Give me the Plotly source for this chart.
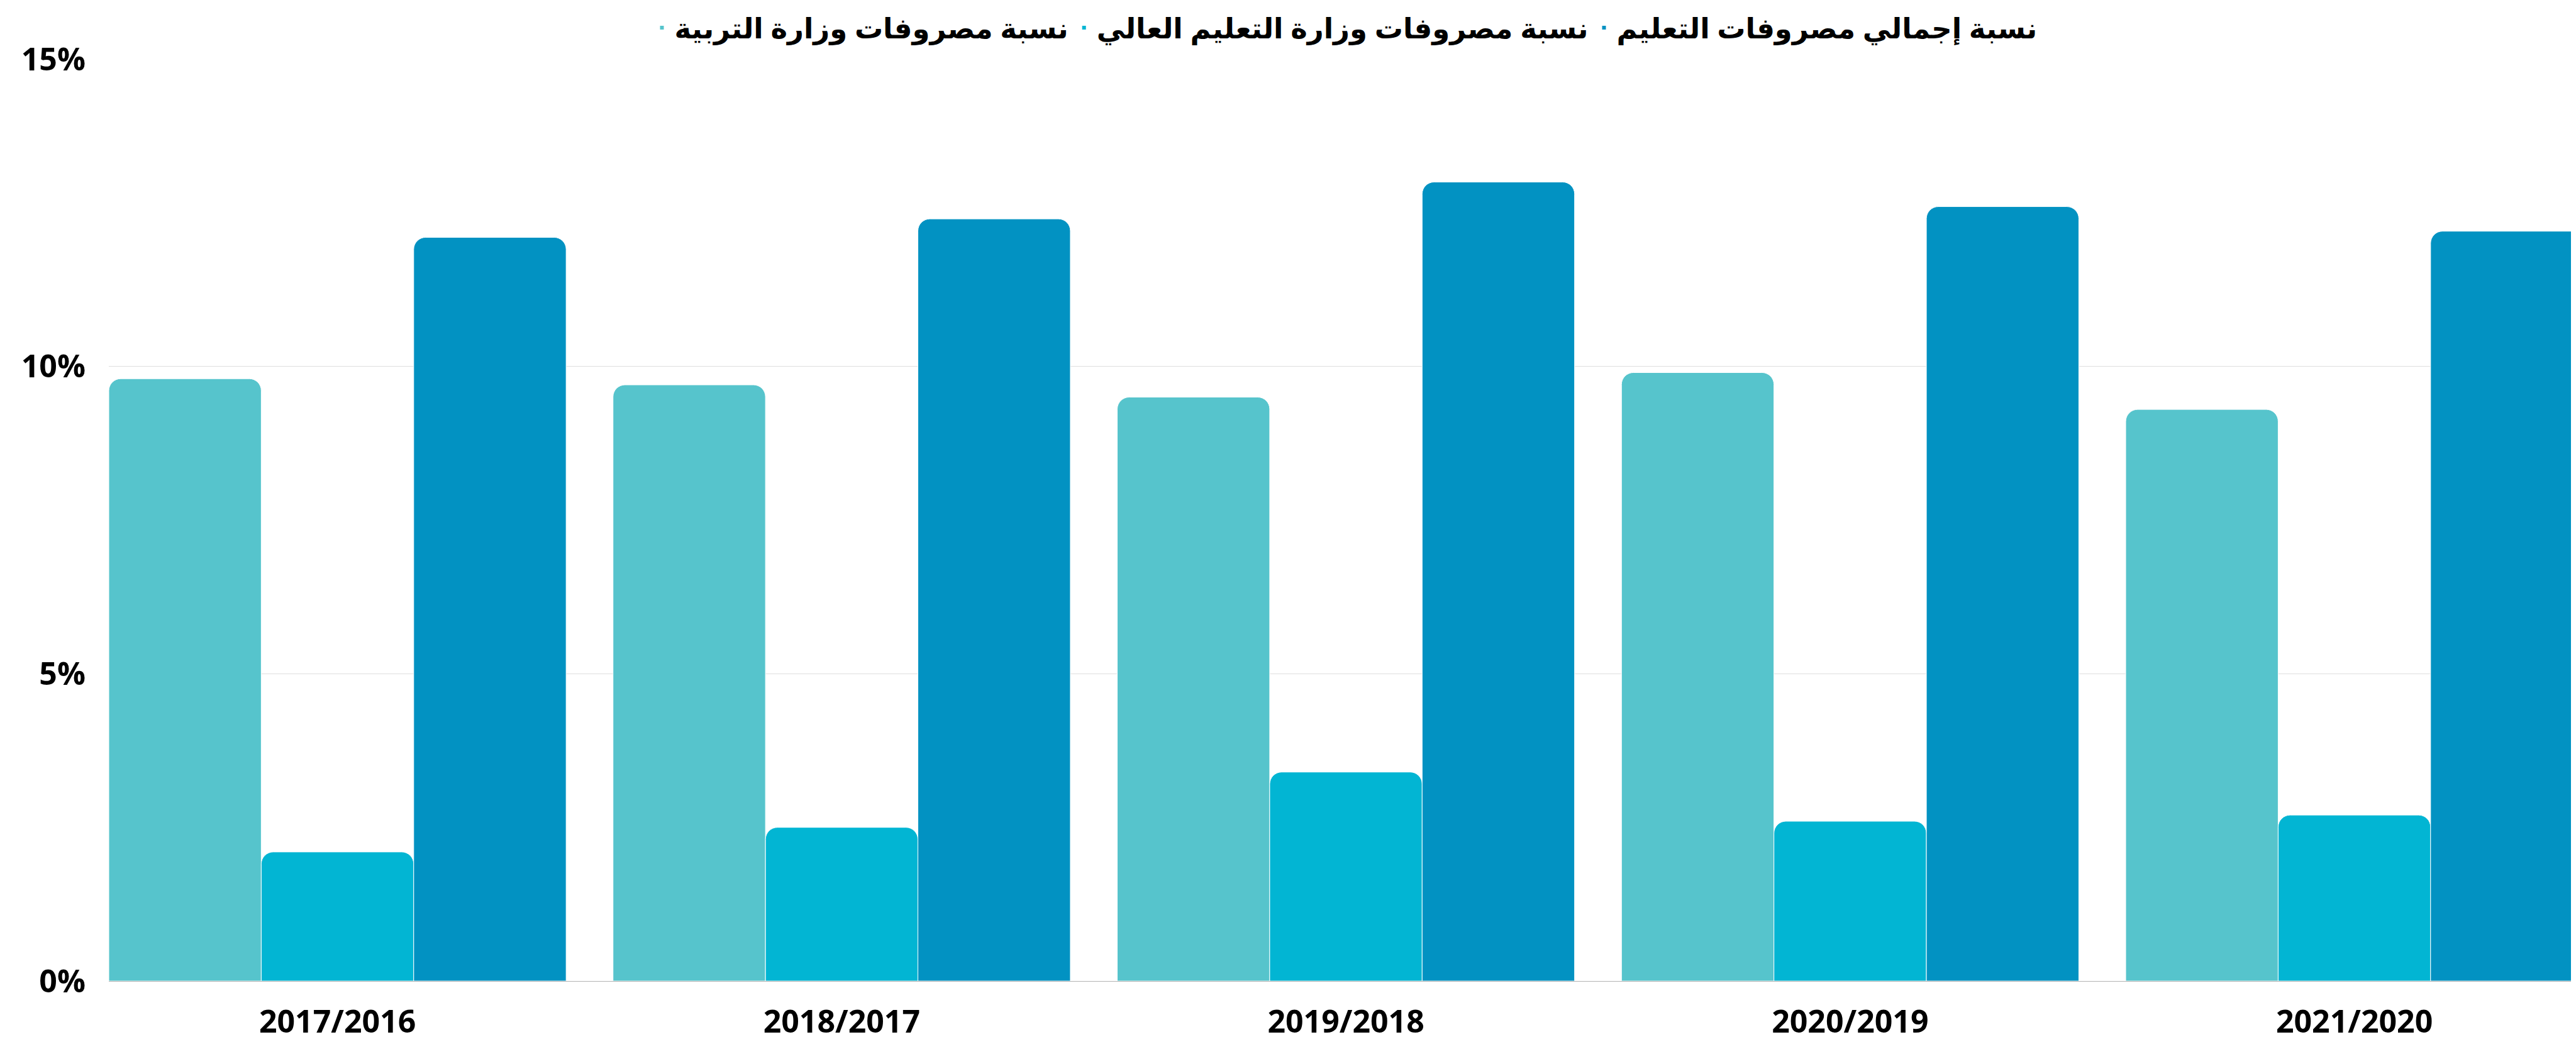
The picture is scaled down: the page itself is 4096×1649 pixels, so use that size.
import plotly.graph_objects as go

# ---- data ----
categories = ["2017/2016", "2018/2017", "2019/2018", "2020/2019", "2021/2020"]
series_names = [
    "نسبة مصروفات وزارة التربية",
    "نسبة مصروفات وزارة التعليم العالي",
    "نسبة إجمالي مصروفات التعليم",
]
ministry_education = [9.8, 9.7, 9.5, 9.9, 9.3]
higher_education = [2.1, 2.5, 3.4, 2.6, 2.7]
total_education = [12.1, 12.4, 13.0, 12.6, 12.2]
y_tick_values = [0, 5, 10, 15]
y_tick_labels = ["0%", "5%", "10%", "15%"]

series_values = [ministry_education, higher_education, total_education]
colors = ["#56C4CC", "#02B5D3", "#0292C2"]

FONT = "Open Sans, DejaVu Sans, sans-serif"

fig = go.Figure()
for name, vals, col in zip(series_names, series_values, colors):
    fig.add_trace(go.Bar(
        x=categories, y=vals, name=name,
        marker=dict(color=col, line=dict(color="white", width=1), cornerradius=19),
        showlegend=False, hoverinfo="x+y",
    ))
# small square legend symbols
for name, col in zip(series_names, colors):
    fig.add_trace(go.Scatter(
        x=[None], y=[None], mode="markers", name=name,
        marker=dict(symbol="square", size=6, color=col),
        showlegend=True,
    ))

fig.update_layout(
    width=4096, height=1649,
    margin=dict(l=165, r=0, t=86, b=88, pad=0),
    paper_bgcolor="white", plot_bgcolor="white",
    barmode="group", bargap=0.093, bargroupgap=0,
    font=dict(family=FONT, color="black"),
    legend=dict(
        orientation="h", x=0.5, xanchor="center", y=1.034, yanchor="middle",
        font=dict(family=FONT, size=45, color="black", weight="bold"),
        bgcolor="rgba(0,0,0,0)", itemwidth=30, traceorder="normal",
    ),
    xaxis=dict(
        type="category", range=[-0.4535, 4.4495],
        showline=True, linecolor="#b3b3b3", linewidth=1,
        showgrid=False, zeroline=False, ticks="",
        tickfont=dict(family=FONT, size=50, color="black", weight="bold"),
        ticklabelstandoff=21,
    ),
    yaxis=dict(
        range=[0, 15], tickvals=y_tick_values, ticktext=y_tick_labels,
        showgrid=True, gridcolor="#dedede", gridwidth=1,
        zeroline=False, showline=False, ticks="",
        tickfont=dict(family=FONT, size=50, color="black", weight="bold"),
        ticklabelstandoff=36,
    ),
)

fig.write_html("out.html")
